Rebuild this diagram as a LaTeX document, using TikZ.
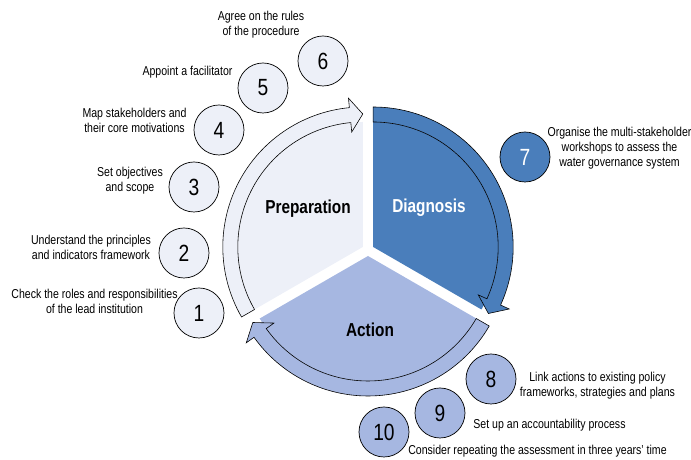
\documentclass[tikz,border=0pt]{standalone}
\usepackage{fontspec}
\setmainfont{Liberation Sans}[FakeStretch=0.82]

\definecolor{prepfill}{HTML}{EDF0F8}
\definecolor{diagfill}{HTML}{4A7EBB}
\definecolor{actfill}{HTML}{A6B7E1}

\tikzset{
	stepnum/.style={circle, draw=black, line width=0.6pt, minimum size=1.5cm, inner sep=0pt, font=\fontsize{20}{20}\selectfont},
	note/.style={align=center, inner sep=0pt, font=\fontsize{11}{12.8}\selectfont},
	phase/.style={font=\fontsize{16}{18}\selectfont\bfseries}
}

\begin{document}
\begin{tikzpicture}[x=0.03cm, y=0.03cm]
	\def\Rin{125}
	\def\Rout{140}
	\def\Rmid{133}
	\def\W{9.5}
	\def\gap{6}

	\useasboundingbox (-368,-210) rectangle (323,250);

	% the three exploded segments, each with its curved arrow
	\foreach \dir/\sa/\col in {150/210/prepfill, 30/90/diagfill, 270/-30/actfill}{
		\pgfmathsetmacro{\ea}{\sa-120}
		\pgfmathsetmacro{\ha}{\ea+5.5}
		\begin{scope}[shift={(\dir:\gap)}]
			\fill[\col]	(0,0) -- (\sa:\Rin) arc[start angle=\sa, end angle=\ea, radius=\Rin] -- cycle;
			\filldraw[fill=\col, draw=black, line width=0.5pt]
				(\sa:\Rout) arc[start angle=\sa, end angle=\ha, radius=\Rout]
				-- (\ha:\Rout+\W) -- (\ea:\Rmid) -- (\ha:\Rin-\W) -- (\ha:\Rin)
				arc[start angle=\ha, end angle=\sa, radius=\Rin] -- cycle;
		\end{scope}
	}

	\node[phase]			(prep) at (-60,41) {Preparation};
	\node[phase, text=white]	(diag) at (61,42) {Diagnosis};
	\node[phase]			(act) at (2,-80) {Action};

	\foreach \n/\x/\y/\col/\tc in {1/-169/-63/prepfill/black, 2/-184/-3/prepfill/black, 3/-174/63/prepfill/black,
		4/-149/120/prepfill/black, 5/-105/162/prepfill/black, 6/-45/189/prepfill/black, 7/157/93/diagfill/white,
		8/123/-129/actfill/black, 9/72/-163/actfill/black, 10/16/-182/actfill/black}
		\node[stepnum, fill=\col, text=\tc] (s\n) at (\x,\y) {\n};

	\node[note] (t1) at (-273.5,-51.5) {Check the roles and responsibilities\\of the lead institution};
	\node[note] (t2) at (-277,2.5) {Understand the principles\\and indicators framework};
	\node[note] (t3) at (-238,69.5) {Set objectives\\and scope};
	\node[note] (t4) at (-233.5,129.5) {Map stakeholders and\\their core motivations};
	\node[note] (t5) at (-180.5,178) {Appoint a facilitator};
	\node[note] (t6) at (-107,225.5) {Agree on the rules\\of the procedure};
	\node[note] (t7) at (251.5,102) {Organise the multi-stakeholder\\workshops to assess the\\water governance system};
	\node[note] (t8) at (229.5,-135.5) {Link actions to existing policy\\frameworks, strategies and plans};
	\node[note] (t9) at (181.5,-175) {Set up an accountability process};
	\node[note] (t10) at (169.5,-201) {Consider repeating the assessment in three years' time};
\end{tikzpicture}
\end{document}
